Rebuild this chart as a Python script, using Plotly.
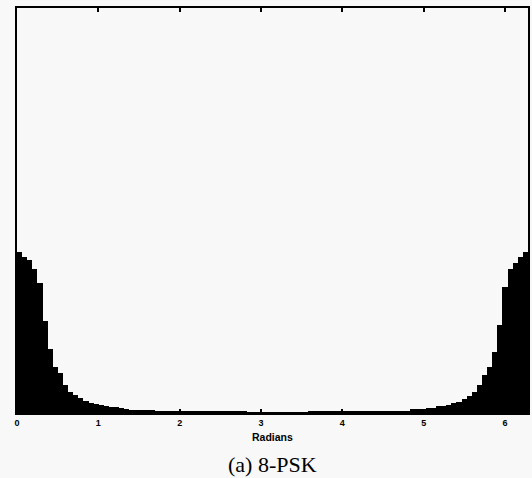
import math
import plotly.graph_objects as go

# Histogram of phase (radians), 100 bins over [0, 2*pi]
n_bins = 100
bin_heights = [
    161, 156, 153, 144, 130, 92, 64, 46, 40, 28,
    21, 18, 15, 12, 10, 9.3, 8, 7.3, 6.3, 5.7,
    5, 3.7, 3.3, 3.3, 3, 3, 3,
    2.5, 2.3, 2, 2, 1.8, 1.7, 1.7, 1.6, 1.5, 1.5, 1.4, 1.4, 1.3, 1.3,
    1.2, 1.2, 1.1, 1.1, 1, 1, 1, 1, 1, 1, 1, 1, 1, 1, 1, 1, 1.1, 1.1, 1.2,
    1.2, 1.3, 1.3, 1.4, 1.4, 1.5, 1.5, 1.6, 1.6, 1.7, 1.7, 1.7, 1.7, 1.8, 1.8, 1.9, 2.0,
    3.7, 3.7, 3.9,
    5, 5.3,
    7, 7.2,
    8.3, 9.7, 11, 13.7, 17, 20.7, 28, 38, 46, 61, 88, 126, 144, 150, 156, 161,
]
tick_vals = [0, 1, 2, 3, 4, 5, 6]
tick_text = ["0", "1", "2", "3", "4", "5", "6"]
x_title = "Radians"
caption = "(a) 8-PSK"

bw = 2 * math.pi / n_bins
centers = [(i + 0.5) * bw for i in range(n_bins)]

fig = go.Figure(go.Bar(
    x=centers, y=bin_heights, width=bw,
    marker=dict(color="black", line=dict(width=0)),
))

bg = "#f8f8f8"
fig.update_layout(
    width=532, height=478,
    margin=dict(l=17, r=2, t=8, b=65),
    paper_bgcolor=bg, plot_bgcolor=bg,
    bargap=0, showlegend=False,
    font=dict(family="Liberation Sans", color="black"),
)
fig.update_xaxes(
    range=[0, 2 * math.pi], tickvals=tick_vals, ticktext=tick_text,
    ticks="inside", ticklen=4, tickwidth=1.5, tickcolor="black",
    showline=True, linecolor="black", linewidth=1.5, mirror="ticks",
    showgrid=False, zeroline=False,
    tickfont=dict(size=9, family="Liberation Sans", weight="bold"),
)
fig.update_yaxes(
    range=[0, 405], showticklabels=False, ticks="",
    showline=True, linecolor="black", linewidth=1.5, mirror=True,
    showgrid=False, zeroline=False,
)
fig.add_annotation(
    text=x_title, xref="paper", yref="paper", x=0.5, y=0,
    yanchor="middle", yshift=-24, showarrow=False,
    font=dict(size=10.5, family="Liberation Sans", weight="bold"),
)
fig.add_annotation(
    text=caption, xref="paper", yref="paper", x=0.5, y=0,
    yanchor="middle", yshift=-51, showarrow=False,
    font=dict(size=22, family="Liberation Serif"),
)
fig.write_html("out.html")
